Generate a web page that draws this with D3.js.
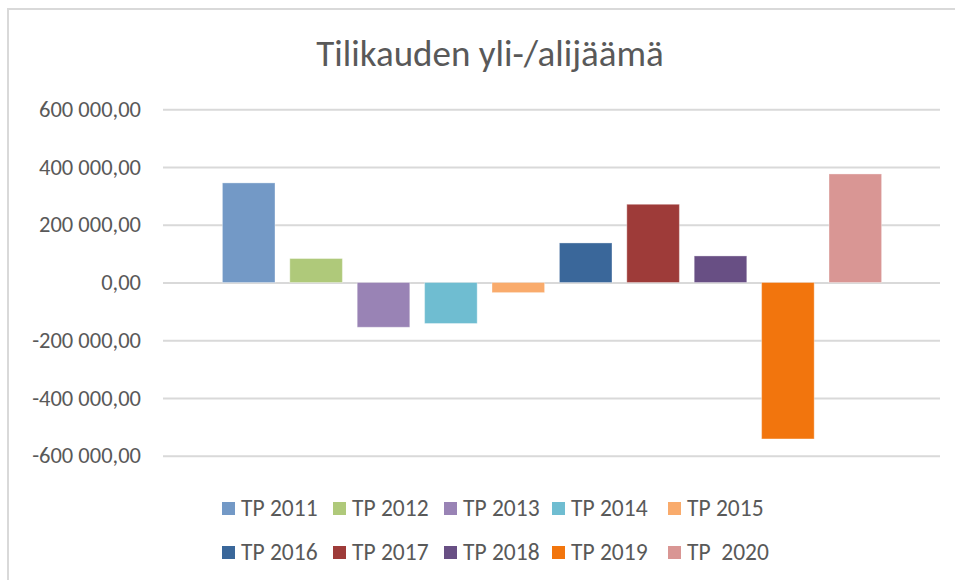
<!DOCTYPE html>
<html>
<head>
<meta charset="utf-8">
<script src="https://cdn.jsdelivr.net/npm/d3@7"></script>
<style>
  body { margin: 0; background: #fff; }
  text { font-family: Carlito, "Open Sans", sans-serif; fill: #595959; }
</style>
</head>
<body>
<div id="chart"></div>
<script>
// data
var series = ["TP 2011", "TP 2012", "TP 2013", "TP 2014", "TP 2015",
              "TP 2016", "TP 2017", "TP 2018", "TP 2019", "TP  2020"];
var values = [345000, 83000, -155000, -142000, -35000,
              137000, 271000, 92000, -542000, 376000];
var colors = ["#7399c6", "#afc97a", "#9983b5", "#6fbdd1", "#f9ab6c",
              "#3a679a", "#9e3b39", "#684f84", "#f2750d", "#d99694"];
var yTicks = [-600000, -400000, -200000, 0, 200000, 400000, 600000];

var svgWidth = 955;
var svgHeight = 580;

var svg = d3.select("#chart")
  .append("svg")
  .attr("width", svgWidth)
  .attr("height", svgHeight);

// chart frame (only top and left edges are visible)
svg.append("rect")
  .attr("x", 8)
  .attr("y", 9)
  .attr("width", 1000)
  .attr("height", 700)
  .attr("fill", "none")
  .attr("stroke", "#d9d9d9")
  .attr("stroke-width", 2);

// title
svg.append("text")
  .attr("x", 490)
  .attr("y", 66)
  .attr("text-anchor", "middle")
  .attr("font-size", "37px")
  .attr("font-weight", 300)
  .text("Tilikauden yli-/alijäämä");

var plotLeft = 163, plotRight = 940;

var y = d3.scaleLinear()
  .domain([-600000, 600000])
  .range([455.7, 109.3]);

var x = d3.scaleBand()
  .domain(series)
  .range([215, 889])
  .paddingInner(0.22)
  .paddingOuter(0.11);

var fmt = function(v) {
  var s = d3.format(",.2f")(v);
  return s.replace(/,/g, " ").replace(".", ",").replace("−", "-");
};

// gridlines + labels
var yAxis = d3.axisLeft(y)
  .tickValues(yTicks)
  .tickSize(-(plotRight - plotLeft))
  .tickPadding(22)
  .tickFormat(fmt);

var gy = svg.append("g")
  .attr("transform", `translate(${plotLeft},0)`)
  .call(yAxis);

gy.select(".domain").remove();
gy.selectAll(".tick line")
  .attr("stroke", "#d9d9d9")
  .attr("stroke-width", 2);
gy.selectAll(".tick text")
  .attr("font-size", "22.5px")
  .attr("fill", "#606060")
  .style("font-family", "Carlito, 'Open Sans', sans-serif");

// bars
svg.append("g").selectAll("rect")
  .data(series)
  .enter()
  .append("rect")
  .attr("x", d => x(d))
  .attr("width", x.bandwidth())
  .attr("y", (d, i) => y(Math.max(0, values[i])))
  .attr("height", (d, i) => Math.abs(y(values[i]) - y(0)))
  .attr("fill", (d, i) => colors[i])
  .attr("stroke", "rgba(255,255,255,0.35)")
  .attr("stroke-width", 1);

// legend, two rows of five
var legendX = [222, 333, 444, 552, 668];
var legendY = [502, 546];

var legend = svg.append("g").selectAll("g")
  .data(series)
  .enter()
  .append("g")
  .attr("transform", (d, i) => `translate(${legendX[i % 5]}, ${legendY[Math.floor(i / 5)]})`);

legend.append("rect")
  .attr("width", 13)
  .attr("height", 13)
  .attr("fill", (d, i) => colors[i]);

legend.append("text")
  .attr("x", 19)
  .attr("y", 13.5)
  .attr("font-size", "23.5px")
  .attr("fill", "#606060")
  .style("white-space", "pre")
  .attr("xml:space", "preserve")
  .text(d => d);
</script>
</body>
</html>
